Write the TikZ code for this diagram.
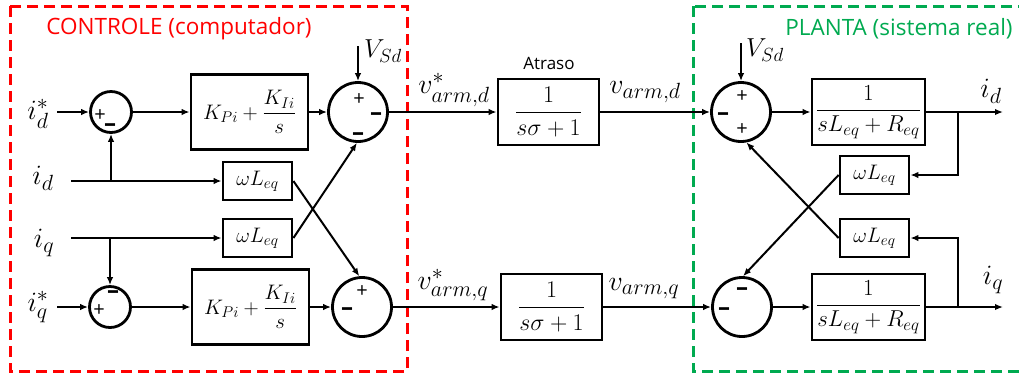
\RequirePackage{fix-cm}
\documentclass[tikz,border=0pt]{standalone}
\usepackage{amsmath}
\usepackage{fontspec}
\setsansfont{Open Sans}
\usetikzlibrary{arrows.meta}
\DeclareMathSizes{28}{28}{22}{16}
\DeclareMathSizes{21}{21}{15.5}{11}
\DeclareMathSizes{23}{23}{17}{12}
\DeclareMathSizes{24}{24}{17}{12}
\DeclareMathSizes{26}{26}{19}{14}
\definecolor{ctrlred}{RGB}{255,0,0}
\definecolor{plantgreen}{RGB}{0,170,80}
\tikzset{
  conn/.style={line width=2pt, -{Latex[length=8pt,width=6.5pt]}},
  frame/.style={line width=3pt, dash pattern=on 11pt off 6pt},
  pibox/.style={draw, line width=2.8pt, minimum width=117pt, minimum height=75pt, inner sep=0pt,
    font=\fontsize{21}{24}\selectfont},
  wbox/.style={draw, line width=2.8pt, minimum width=69pt, minimum height=38pt, inner sep=0pt,
    font=\fontsize{21}{24}\selectfont},
  dbox/.style={draw, line width=2.8pt, minimum width=101pt, minimum height=66pt, inner sep=0pt,
    font=\fontsize{24}{26}\selectfont},
  pbox/.style={draw, line width=2.8pt, minimum width=113pt, minimum height=66pt, inner sep=0pt,
    font=\fontsize{23}{26}\selectfont},
  sumS/.style={draw, circle, line width=2.8pt, minimum size=41pt, inner sep=0pt},
  sumB/.style={draw, circle, line width=2.8pt, minimum size=59pt, inner sep=0pt},
  sgn/.style={anchor=base, yshift=-7pt, inner sep=0pt, font=\sffamily\fontsize{20}{20}\selectfont},
  neg/.style={anchor=base, yshift=-7pt, inner sep=0pt, font=\sffamily\bfseries\fontsize{24}{24}\selectfont},
  biglbl/.style={inner sep=0pt, font=\fontsize{28}{30}\selectfont},
  vlbl/.style={inner sep=0pt, font=\fontsize{26}{28}\selectfont},
  title/.style={inner sep=0pt, font=\sffamily\fontsize{22.5}{26}\selectfont},
}
\begin{document}
\begin{tikzpicture}[x=1pt,y=-1pt]
\useasboundingbox (0,0) rectangle (1019,376);
\clip (0,0) rectangle (1019,376);

% frames around controller and plant
\draw[frame, ctrlred] (10,6) rectangle (407,371);
\draw[frame, plantgreen] (693,6) rectangle (1040,371);
\node[title, text=ctrlred] (ttlctrl) at (179,29) {CONTROLE (computador)};
\node[title, text=plantgreen] (ttlplant) at (899,29) {PLANTA (sistema real)};

% input labels
\node[biglbl] (ids) at (38,114) {$i_d^*$};
\node[biglbl] (id) at (43,178) {$i_d$};
\node[biglbl] (iq) at (44,243) {$i_q$};
\node[biglbl] (iqs) at (38,307) {$i_q^*$};

% controller
\node[sumS] (c1) at (111,112) {};
\node[sgn] (c1p) at (100,114) {+};
\node[neg] (c1m) at (110,124) {–};
\node[pibox] (pi1) at (249.5,112) {$\displaystyle K_{Pi}+\frac{K_{Ii}}{s}$};
\node[sumB] (c2) at (358,112) {};
\node[sgn] (c2p) at (359,98) {+};
\node[neg] (c2m) at (376,113) {–};
\node[neg] (c2n) at (358,133) {–};
\node[wbox] (w1) at (257.5,181) {$\omega L_{eq}$};
\node[wbox] (w2) at (257.5,238) {$\omega L_{eq}$};
\node[sumS] (c3) at (110,307) {};
\node[sgn] (c3p) at (99,309) {+};
\node[neg] (c3m) at (113,291) {–};
\node[pibox] (pi2) at (250.5,307) {$\displaystyle K_{Pi}+\frac{K_{Ii}}{s}$};
\node[sumB] (c4) at (362,307) {};
\node[sgn] (c4p) at (362,290) {+};
\node[neg] (c4m) at (347,308) {–};
\node[vlbl] (vs1) at (383,51) {$V_{Sd}$};

% delay
\node[inner sep=0pt, font=\sffamily\fontsize{17}{20}\selectfont] (atr) at (549,63) {Atraso};
\node[dbox] (d1) at (548.5,112) {$\displaystyle\frac{1}{s\sigma+1}$};
\node[dbox] (d2) at (551.5,307) {$\displaystyle\frac{1}{s\sigma+1}$};
\node[biglbl] (vrd) at (454,90) {$v_{arm,d}^*$};
\node[biglbl] (vd) at (645,92) {$v_{arm,d}$};
\node[biglbl] (vrq) at (453,285) {$v_{arm,q}^*$};
\node[biglbl] (vq) at (644,289) {$v_{arm,q}$};

% plant
\node[sumB] (c5) at (741,112) {};
\node[sgn] (c5p) at (742,95) {+};
\node[neg] (c5m) at (723,113) {–};
\node[sgn] (c5q) at (742,128) {+};
\node[vlbl] (vs2) at (765,50) {$V_{Sd}$};
\node[pbox] (p1) at (868.5,112) {$\displaystyle\frac{1}{sL_{eq}+R_{eq}}$};
\node[wbox] (w3) at (874.5,175) {$\omega L_{eq}$};
\node[wbox] (w4) at (874.5,238) {$\omega L_{eq}$};
\node[sumB] (c6) at (742,307) {};
\node[neg] (c6m) at (742,288) {–};
\node[neg] (c6n) at (724,308) {–};
\node[pbox] (p2) at (868.5,307) {$\displaystyle\frac{1}{sL_{eq}+R_{eq}}$};
\node[biglbl] (idout) at (991,91) {$i_d$};
\node[biglbl] (iqout) at (993,280) {$i_q$};

% free ends of the connectors
\coordinate (idsin) at (57,112);
\coordinate (idin) at (71,181);
\coordinate (iqin) at (71,238);
\coordinate (iqsin) at (57,307);
\coordinate (vs1in) at (358,46);
\coordinate (vs2in) at (741,43);
\coordinate (brd) at (958,112);
\coordinate (brq) at (958,307);
\coordinate (idend) at (1003,112);
\coordinate (iqend) at (1003,307);

% controller connectors
\draw[conn] (idsin) -- (c1);
\draw[conn] (idin) -- (w1);
\draw[conn] (c1.south |- idin) -- (c1.south);
\draw[conn] (iqin) -- (w2);
\draw[conn] (c3.north |- iqin) -- (c3.north);
\draw[conn] (iqsin) -- (c3);
\draw[conn] (c1) -- (pi1);
\draw[conn] (c3) -- (pi2);
\draw[conn] (pi1) -- (c2);
\draw[conn] (pi2) -- (c4);
\draw[conn] (vs1in) -- (c2);
\draw[conn] (w1.east) -- (c4.95);
\draw[conn] (w2.east) -- (c2.-92);

% delay connectors
\draw[conn] (c2) -- (d1);
\draw[conn] (c4) -- (d2);
\draw[conn] (d1) -- (c5);
\draw[conn] (d2) -- (c6);

% plant connectors
\draw[conn] (vs2in) -- (c5);
\draw[conn] (c5) -- (p1);
\draw[conn] (c6) -- (p2);
\draw[conn] (p1) -- (idend);
\draw[conn] (p2) -- (iqend);
\draw[conn] (brd) |- (w3);
\draw[conn] (brq) |- (w4);
\draw[conn] (w3.west) -- (c6.88);
\draw[conn] (w4.west) -- (c5.-80);
\end{tikzpicture}
\end{document}
